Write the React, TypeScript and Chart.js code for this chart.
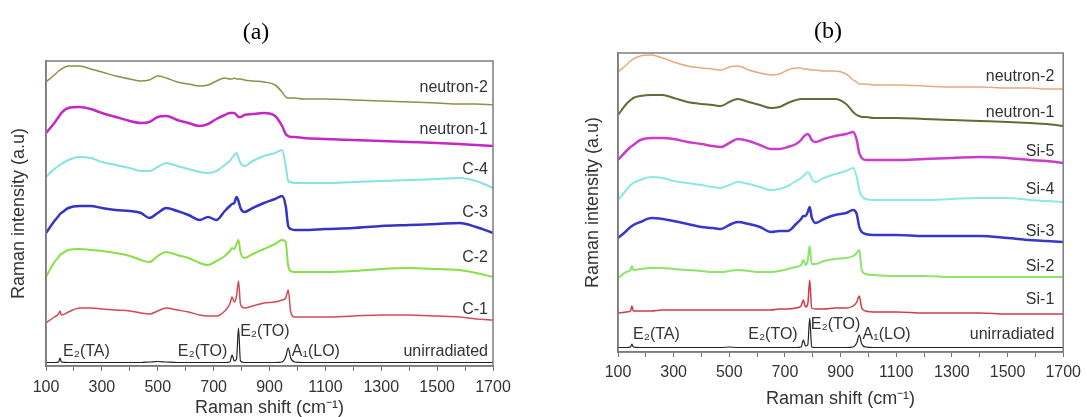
import React, { useEffect, useRef } from "react";
import { Chart, registerables } from "chart.js";
Chart.register(...registerables);

// Raman shift grid (cm^-1)
const WN = [100,130,145,150,155,180,220,260,300,350,400,440,470,500,530,570,610,650,680,710,740,758,766,774,782,789,796,810,840,880,920,945,958,967,976,990,1020,1100,1200,1300,1400,1500,1580,1640,1700];
const X_LABELED = [100,300,500,700,900,1100,1300,1500,1700];

// Panel (a): stacked spectra (arbitrary units, offset included)
const A_NEUTRON2 = [284,291,295,296,297,300,300,297,294,290,287,285,286,290,288,284,282,280,281,285,288,287,287,288,287,287,287,286,285,284,281,274,269,268,268,268,267,267,266,265,264,263,262,262,261];
const A_NEUTRON1 = [233,243,249,251,253,258,259,257,253,249,245,243,244,249,250,246,243,240,242,247,251,253,253,253,251,249,249,251,252,253,250,240,232,230,229,229,228,227,226,225,224,223,222,221,220];
const A_C4 = [189,197,200,201,202,206,209,208,204,201,198,195,195,199,203,200,197,194,193,195,201,205,208,211,213,208,203,200,205,210,213,216,200,185,184,183,183,183,184,185,186,187,188,185,178];
const A_C3 = [133,145,150,152,153,158,160,160,158,156,155,153,148,153,158,155,151,146,149,146,155,160,162,163,169,165,158,154,158,163,167,170,160,140,137,136,136,137,138,140,141,142,143,139,133];
const A_C2 = [89,104,109,111,112,116,117,116,115,113,110,106,104,110,114,111,108,103,101,105,110,115,118,117,122,126,114,108,112,117,122,126,124,100,95,94,94,94,95,97,98,97,96,93,89];
const A_C1 = [43,49,52,55,51,54,58,58,57,56,55,53,52,55,58,56,54,51,50,50,55,62,69,64,70,85,62,58,60,63,64,66,68,76,54,49,49,49,50,51,51,50,49,47,46];
const A_UNIRR = [3.5,3.5,4,8,4,3.5,3.5,3.5,3.5,3.5,3.5,3.5,4,4.5,4,3.5,3.5,3.5,3.5,3.5,3.5,4,11,5,7,38,5,3.5,3.5,3.5,3.5,4,9,18,8,4,3.5,3.5,3.5,3.5,3.5,3.5,3.5,3.5,3.5];

// Panel (b)
const B_NEUTRON2 = [280,287,291,292,293,296,297,294,290,286,284,283,282,285,286,282,279,277,278,282,284,284,283,283,283,282,282,282,281,281,278,272,270,268,268,268,267,267,266,265,265,264,264,263,263];
const B_NEUTRON1 = [237,248,252,253,254,256,257,257,254,250,248,247,246,250,253,250,247,244,245,249,252,253,253,253,253,253,253,253,253,253,248,240,237,236,235,235,234,234,233,232,231,230,229,228,226];
const B_SI5 = [192,201,205,206,207,212,214,214,213,210,208,206,205,209,213,211,207,203,203,205,208,212,215,217,218,216,212,210,213,216,218,220,212,199,194,192,192,192,193,194,195,194,192,191,189];
const B_SI4 = [152,162,167,168,169,172,175,174,171,169,167,165,164,167,170,168,165,162,163,166,171,174,176,178,180,178,173,170,174,178,181,184,175,162,156,153,152,152,152,153,154,154,152,151,150];
const B_SI3 = [114,121,125,126,127,130,134,133,131,128,125,124,123,127,130,128,125,120,121,121,128,133,136,136,140,145,135,129,133,137,139,142,138,125,120,118,117,117,116,116,116,114,112,111,110];
const B_SI2 = [74,80,82,86,82,83,84,84,83,82,81,80,80,81,82,81,80,80,81,83,85,87,92,87,92,106,88,88,91,93,94,96,99,102,82,78,77,76,76,75,75,75,75,75,75];
const B_SI1 = [39,40,41,46,41,41,41,42,42,42,42,42,42,42,42,42,42,42,43,43,44,46,52,45,48,72,44,43,43,44,44,46,50,56,44,41,40,40,39,39,39,38,38,38,38];
const B_UNIRR = [4.5,4.5,5,8,5,4.5,4.5,4.5,4.5,4.5,4.5,4.5,4.5,5,4.5,4.5,4.5,4.5,4.5,4.5,4.5,5,12,6,7,34,5,4.5,4.5,4.5,4.5,5,9,17,8,5,4.5,4.5,4.5,4.5,4.5,4.5,4.5,4.5,4.5];

const A_NAMES = ["neutron-2", "neutron-1", "C-4", "C-3", "C-2", "C-1", "unirradiated"];
const B_NAMES = ["neutron-2", "neutron-1", "Si-5", "Si-4", "Si-3", "Si-2", "Si-1", "unirradiated"];

const SANS = "'Liberation Sans', Arial, sans-serif";
const SERIF = "'Liberation Serif', 'Times New Roman', serif";

type Item = { text: string; x: number; y: number; data?: boolean; align?: CanvasTextAlign; font: string; color?: string };

const textPlugin = {
  id: "panelText",
  afterDraw(chart: any, _args: any, opts: any) {
    const ctx = chart.ctx;
    const xs = chart.scales.x;
    const ys = chart.scales.y;
    const a = chart.chartArea;
    ctx.save();
    ctx.strokeStyle = "#7c7c7c";
    ctx.lineWidth = 1.5;
    ctx.strokeRect(a.left, a.top, a.right - a.left, a.bottom - a.top);
    for (const it of (opts.items || []) as Item[]) {
      const px = it.data ? xs.getPixelForValue(it.x) : it.x;
      const py = it.data ? ys.getPixelForValue(it.y) : it.y;
      ctx.font = it.font;
      ctx.fillStyle = it.color || "#333";
      ctx.textAlign = it.align || "left";
      ctx.textBaseline = "middle";
      ctx.fillText(it.text, px, py);
    }
    ctx.restore();
  },
};

type Spec = {
  width: number; padL: number; padR: number; padT: number; yW: number; yMax: number;
  xAxisH: number; tickPad: number; xTitlePad: number; yTitlePad: number;
  series: number[][]; names: string[]; colors: string[]; widths: number[]; items: Item[];
};

const LBL = `16px ${SANS}`;

const SPEC_A: Spec = {
  width: 545, padL: 0, padR: 52, padT: 61, yW: 46, yMax: 305, xAxisH: 51, tickPad: 7, xTitlePad: 0, yTitlePad: 8,
  series: [A_NEUTRON2, A_NEUTRON1, A_C4, A_C3, A_C2, A_C1, A_UNIRR],
  names: A_NAMES,
  colors: ["#8f8f4a", "#c428c4", "#86e3e3", "#3434c4", "#86e046", "#d24a58", "#222222"],
  widths: [1.5, 2.5, 2, 2.5, 2, 1.5, 1.2],
  items: [
    { text: "(a)", x: 256, y: 33, align: "center", font: `24px ${SERIF}`, color: "#000" },
    { text: "neutron-2", x: 1682, y: 278, data: true, align: "right", font: LBL },
    { text: "neutron-1", x: 1682, y: 236, data: true, align: "right", font: LBL },
    { text: "C-4", x: 1682, y: 196, data: true, align: "right", font: LBL },
    { text: "C-3", x: 1682, y: 153, data: true, align: "right", font: LBL },
    { text: "C-2", x: 1682, y: 108, data: true, align: "right", font: LBL },
    { text: "C-1", x: 1682, y: 56, data: true, align: "right", font: LBL },
    { text: "unirradiated", x: 1682, y: 14, data: true, align: "right", font: LBL },
    { text: "E₂(TA)", x: 161, y: 14, data: true, font: LBL },
    { text: "E₂(TO)", x: 572, y: 14, data: true, font: LBL },
    { text: "E₂(TO)", x: 795, y: 34, data: true, font: LBL },
    { text: "A₁(LO)", x: 980, y: 14, data: true, font: LBL },
  ],
};

const SPEC_B: Spec = {
  width: 542, padL: 30, padR: 21, padT: 53, yW: 43, yMax: 299, xAxisH: 65, tickPad: 6, xTitlePad: 9, yTitlePad: 7,
  series: [B_NEUTRON2, B_NEUTRON1, B_SI5, B_SI4, B_SI3, B_SI2, B_SI1, B_UNIRR],
  names: B_NAMES,
  colors: ["#e4ab80", "#5e6e34", "#cc3ccc", "#8ce8e8", "#3838c8", "#8ee46a", "#d03a48", "#222222"],
  widths: [1.5, 2, 2.5, 2, 2.5, 2, 1.5, 1.2],
  items: [
    { text: "(b)", x: 283, y: 32, align: "center", font: `24px ${SERIF}`, color: "#000" },
    { text: "neutron-2", x: 1668, y: 275, data: true, align: "right", font: LBL },
    { text: "neutron-1", x: 1668, y: 239, data: true, align: "right", font: LBL },
    { text: "Si-5", x: 1668, y: 200, data: true, align: "right", font: LBL },
    { text: "Si-4", x: 1668, y: 162, data: true, align: "right", font: LBL },
    { text: "Si-3", x: 1668, y: 120, data: true, align: "right", font: LBL },
    { text: "Si-2", x: 1668, y: 85, data: true, align: "right", font: LBL },
    { text: "Si-1", x: 1668, y: 52, data: true, align: "right", font: LBL },
    { text: "unirradiated", x: 1668, y: 17, data: true, align: "right", font: LBL },
    { text: "E₂(TA)", x: 154, y: 17, data: true, font: LBL },
    { text: "E₂(TO)", x: 568, y: 17, data: true, font: LBL },
    { text: "E₂(TO)", x: 793, y: 27, data: true, font: LBL },
    { text: "A₁(LO)", x: 979, y: 17, data: true, font: LBL },
  ],
};

function makeConfig(p: Spec): any {
  return {
    type: "line",
    data: {
      datasets: p.series.map((vals, i) => ({
        label: p.names[i],
        data: WN.map((x, k) => ({ x, y: vals[k] })),
        borderColor: p.colors[i],
        borderWidth: p.widths[i],
        pointRadius: 0,
        cubicInterpolationMode: "monotone",
        fill: false,
      })),
    },
    options: {
      responsive: false,
      animation: false,
      devicePixelRatio: 1,
      layout: { padding: { left: p.padL, right: p.padR, top: p.padT, bottom: 0 } },
      plugins: {
        legend: { display: false },
        tooltip: { enabled: false },
        title: { display: false },
        panelText: { items: p.items },
      },
      scales: {
        x: {
          type: "linear",
          min: 100,
          max: 1700,
          afterFit: (s: any) => { s.height = p.xAxisH; },
          ticks: {
            stepSize: 100,
            autoSkip: false,
            maxRotation: 0,
            padding: p.tickPad,
            color: "#333",
            font: { family: SANS, size: 16 },
            callback: (v: number) => (X_LABELED.includes(v) ? String(v) : ""),
          },
          grid: { drawOnChartArea: false, drawTicks: true, tickLength: 5, color: "#777", lineWidth: 1 },
          border: { color: "#7c7c7c", width: 1.5 },
          title: {
            display: true,
            text: "Raman shift (cm⁻¹)",
            color: "#333",
            font: { family: SANS, size: 18, lineHeight: 1 },
            padding: { top: 0, bottom: p.xTitlePad },
          },
        },
        y: {
          min: 0,
          max: p.yMax,
          afterFit: (s: any) => { s.width = p.yW; },
          ticks: { display: false },
          grid: { display: false },
          border: { display: true, color: "#7c7c7c", width: 1.5 },
          title: {
            display: true,
            text: "Raman intensity (a.u)",
            color: "#333",
            font: { family: SANS, size: 18 },
            padding: { top: p.yTitlePad, bottom: 0 },
          },
        },
      },
    },
    plugins: [textPlugin],
  };
}

function Panel({ spec, left }: { spec: Spec; left: number }) {
  const ref = useRef<HTMLCanvasElement>(null);
  useEffect(() => {
    const chart = new Chart(ref.current as HTMLCanvasElement, makeConfig(spec));
    return () => chart.destroy();
  }, [spec]);
  return (
    <canvas
      ref={ref}
      width={spec.width}
      height={417}
      style={{ position: "absolute", left, top: 0, width: spec.width, height: 417 }}
    />
  );
}

export default function App() {
  return (
    <div style={{ position: "fixed", left: 0, top: 0, width: 1087, height: 417, background: "#fff", overflow: "hidden" }}>
      <Panel spec={SPEC_A} left={0} />
      <Panel spec={SPEC_B} left={545} />
    </div>
  );
}
